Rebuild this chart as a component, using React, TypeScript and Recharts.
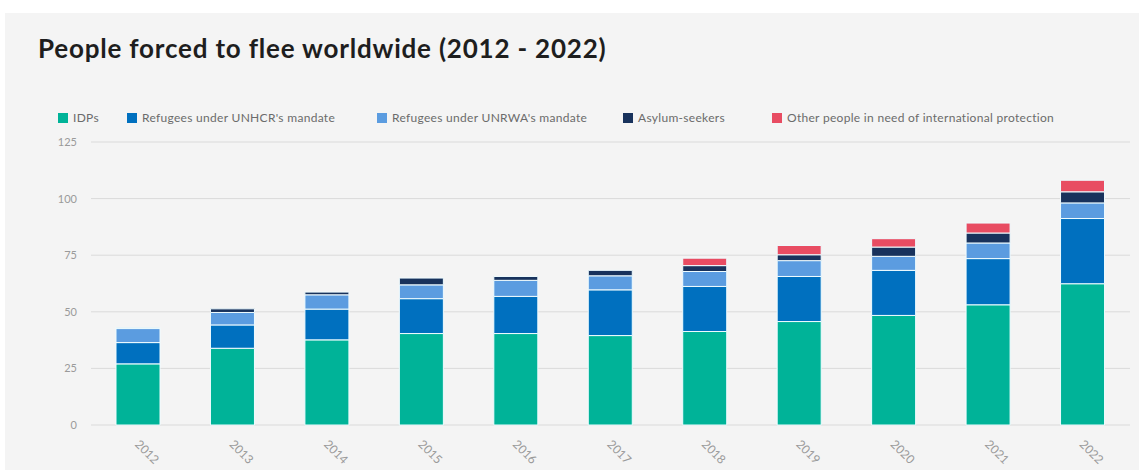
import React from 'react';
import { BarChart, Bar, XAxis, YAxis, CartesianGrid, Legend } from 'recharts';

// values in millions
const years = ['2012', '2013', '2014', '2015', '2016', '2017', '2018', '2019', '2020', '2021', '2022'];
const idps = [27.0, 33.9, 37.6, 40.4, 40.4, 39.5, 41.3, 45.7, 48.4, 53.1, 62.4];
const unhcrRefugees = [9.4, 10.3, 13.6, 15.4, 16.4, 20.2, 19.9, 19.9, 19.9, 20.4, 28.8];
const unrwaRefugees = [6.2, 5.5, 6.3, 6.1, 7.1, 6.2, 6.6, 7.0, 6.2, 6.9, 6.9];
const asylumSeekers = [0.4, 1.6, 1.2, 3.0, 1.7, 2.4, 2.6, 2.6, 4.1, 4.4, 4.9];
const otherInNeed = [0, 0, 0, 0, 0, 0, 3.3, 4.1, 3.7, 4.4, 5.1];
const yTicks = [0, 25, 50, 75, 100, 125];

const series = [
  { key: 'idps', name: 'IDPs', color: '#00b398', values: idps },
  { key: 'unhcr', name: "Refugees under UNHCR's mandate", color: '#0070bf', values: unhcrRefugees },
  { key: 'unrwa', name: "Refugees under UNRWA's mandate", color: '#5b9ce0', values: unrwaRefugees },
  { key: 'asylum', name: 'Asylum-seekers', color: '#18325c', values: asylumSeekers },
  { key: 'other', name: 'Other people in need of international protection', color: '#e84c62', values: otherInNeed },
];

const data = years.map((year, i) => {
  const row: Record<string, number | string> = { year };
  series.forEach((s) => {
    row[s.key] = s.values[i];
  });
  return row;
});

const FONT = 'Lato, "Open Sans", sans-serif';
// left edge of each legend item, in px
const legendLeft = [58, 127, 377, 623, 772];

// legend follows the series order (recharts sorts its payload by name)
const renderLegend = () => (
  <div style={{ position: 'relative', height: 16, fontFamily: FONT }}>
    {series.map((s, i) => (
      <div
        key={s.key}
        style={{
          position: 'absolute',
          left: legendLeft[i],
          top: 0,
          display: 'flex',
          alignItems: 'center',
          whiteSpace: 'nowrap',
          fontSize: 12,
          letterSpacing: 0.3,
          color: '#6b6b6b',
        }}
      >
        <span style={{ width: 10, height: 10, background: s.color, display: 'inline-block', marginRight: 5 }} />
        {s.name}
      </div>
    ))}
  </div>
);

const YearTick = (props: any) => {
  const { x, y, payload } = props;
  const tx = x - 4;
  const ty = y + 12;
  return (
    <text x={tx} y={ty} transform={`rotate(45, ${tx}, ${ty})`} textAnchor="start" fontSize={12} fill="#9a9a9a" fontFamily={FONT}>
      {payload.value}
    </text>
  );
};

export default function App() {
  return (
    <div style={{ position: 'absolute', left: 0, top: 0, width: 1139, height: 470, background: '#ffffff', overflow: 'hidden' }}>
      <div style={{ position: 'absolute', left: 5, top: 13, width: 1134, height: 457, background: '#f4f4f4' }} />
      <div
        style={{
          position: 'absolute',
          left: 38,
          top: 33,
          fontFamily: FONT,
          fontWeight: 700,
          fontSize: 26,
          letterSpacing: 0.8,
          lineHeight: '30px',
          color: '#1e1e1e',
          whiteSpace: 'nowrap',
        }}
      >
        People forced to flee worldwide (2012 - 2022)
      </div>
      <div style={{ position: 'absolute', left: 0, top: 0 }}>
        <BarChart width={1139} height={470} data={data} margin={{ top: 142, right: 9, bottom: 0, left: 0 }}>
          <CartesianGrid vertical={false} stroke="#dadada" />
          <XAxis dataKey="year" axisLine={false} tickLine={false} height={45} tick={<YearTick />} interval={0} />
          <YAxis
            width={91}
            domain={[0, 125]}
            ticks={yTicks}
            axisLine={false}
            tickLine={false}
            tickMargin={8}
            tick={{ fontSize: 11, fill: '#9a9a9a', fontFamily: FONT }}
          />
          <Legend
            content={renderLegend}
            layout="horizontal"
            verticalAlign="middle"
            align="center"
            wrapperStyle={{ top: 110, left: 0, width: 1139 }}
          />
          {series.map((s) => (
            <Bar
              key={s.key}
              dataKey={s.key}
              name={s.name}
              stackId="total"
              fill={s.color}
              stroke="#effcff"
              strokeWidth={1}
              barSize={44}
              isAnimationActive={false}
            />
          ))}
        </BarChart>
      </div>
    </div>
  );
}
